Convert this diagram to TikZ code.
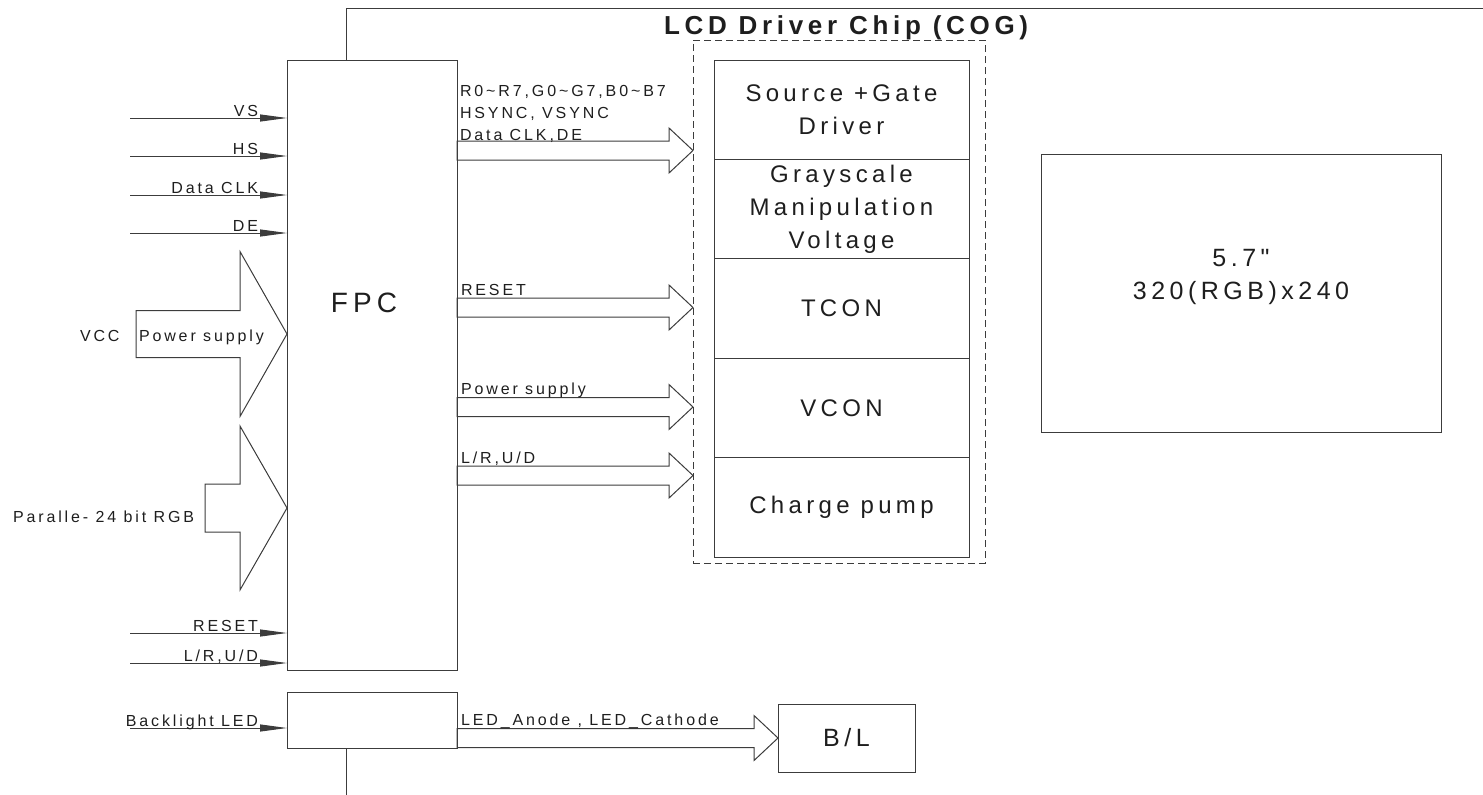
\documentclass[tikz,border=0pt]{standalone}
\usepackage{fontspec}
\setmainfont{Liberation Sans}[LetterSpace=18]
\newfontfamily\straightq{Liberation Sans}[LetterSpace=18, Ligatures=TeXOff]
\usetikzlibrary{arrows.meta, positioning, calc}
\definecolor{inkgray}{RGB}{30,30,30}
\definecolor{wiregray}{RGB}{60,60,60}

% hollow bus arrow: tail, tip, half body, half head, head length
\newcommand{\fatarrow}[5]{%
  \draw[fat] ($(#1)+(0,-#3)$) -- ($(#2)+(-#5,-#3)$) -- ($(#2)+(-#5,-#4)$) -- (#2)
    -- ($(#2)+(-#5,#4)$) -- ($(#2)+(-#5,#3)$) -- ($(#1)+(0,#3)$) -- cycle;}

\begin{document}
\begin{tikzpicture}[x=1pt, y=-1pt,
    every node/.style={inner sep=0pt, outer sep=0pt, text=inkgray},
    blk/.style={draw=wiregray, line width=1pt},
    cell/.style={blk, minimum width=255pt, minimum height=99.4pt, align=center,
      font=\fontsize{24}{33}\selectfont},
    sig/.style={draw=wiregray, line width=1pt, -{Triangle[length=27pt,width=7pt]}},
    sigtxt/.style={font=\fontsize{16}{22}\selectfont, anchor=base east},
    bustxt/.style={font=\fontsize{16}{22}\selectfont, anchor=base west, align=left},
    fat/.style={draw=wiregray, line width=1pt, line join=miter}]
  \useasboundingbox (0,0) rectangle (1483,795);

  % FPC and backlight connector
  \node[blk, minimum width=170pt, minimum height=610pt] (fpc) at (372,365) {};
  \node[font=\fontsize{28}{34}\selectfont] (fpclbl) at (364,303) {FPC};
  \node[blk, minimum width=170pt, minimum height=56pt] (bkl) at (372,720) {};

  % frame line
  \coordinate (topend) at (1483,8);
  \coordinate (fpcjoin) at ([xshift=-26pt]fpc.north);
  \draw[blk] (fpcjoin) |- (topend);
  \coordinate (botend) at (346,795);
  \draw[blk] (bkl.south -| botend) -- (botend);

  % driver chip
  \node[draw=wiregray, line width=1pt, dash pattern=on 7pt off 4pt,
    minimum width=292pt, minimum height=523pt] (cog) at (839,301.5) {};
  \node[font=\bfseries\fontsize{26}{30}\selectfont, anchor=base west] (cogttl)
    at (664,34) {LCD Driver Chip (COG)};
  \node[cell, anchor=north] (src) at (841.5,60) {Source +Gate\\Driver};
  \node[cell, below=0pt of src] (gray) {Grayscale\\Manipulation\\Voltage};
  \node[cell, below=0pt of gray] (tcon) {TCON};
  \node[cell, below=0pt of tcon] (vcon) {VCON};
  \node[cell, below=0pt of vcon] (pump) {Charge pump};

  % panel and backlight
  \node[blk, minimum width=400pt, minimum height=278pt] (disp) at (1241,293) {};
  \node[font=\straightq\fontsize{25}{33}\selectfont, align=center] (disptxt)
    at (1241,277) {5.7"\\320(RGB)x240};
  \node[blk, minimum width=137pt, minimum height=68pt,
    font=\fontsize{25}{30}\selectfont] (bl) at (846.5,738) {B/L};

  % input signals
  \foreach \yy/\nm/\txt in {118/vs/VS, 156/hs/HS, 195/clk/Data CLK, 233/de/DE,
      633/rst/RESET, 663/lr/{L/R,U/D}} {
    \coordinate (\nm in) at (130,\yy);
    \draw[sig] (\nm in) -- (\nm in -| fpc.west)
      node[sigtxt, xshift=-29pt, yshift=1.5pt] (\nm lbl) {\txt};
  }
  \coordinate (ledin) at (130,728);
  \draw[sig] (ledin) -- (ledin -| bkl.west)
    node[sigtxt, xshift=-29pt, yshift=1.5pt] (ledlbl) {Backlight LED};

  % power and RGB buses into FPC
  \coordinate (vcctail) at (136,334);
  \coordinate (vcctip) at (fpc.west |- vcctail);
  \fatarrow{vcctail}{vcctip}{23.5}{82.5}{47}
  \node[bustxt] (vcclbl) at (80,341) {VCC};
  \node[bustxt] (pwrinlbl) at (139,341) {Power supply};
  \coordinate (paratail) at (205,508);
  \coordinate (paratip) at (fpc.west |- paratail);
  \fatarrow{paratail}{paratip}{24}{82}{47}
  \node[bustxt] (paralbl) at (13,522) {Paralle- 24 bit RGB};

  % buses FPC -> chip
  \foreach \yy/\nm in {150.5/rgb, 307.5/rst, 407/pwr, 475.5/ctl} {
    \coordinate (\nm y) at (0,\yy);
    \coordinate (\nm tail) at (fpc.east |- \nm y);
    \coordinate (\nm tip) at (cog.west |- \nm y);
    \fatarrow{\nm tail}{\nm tip}{9.5}{22.5}{24}
  }
  \node[bustxt, anchor=south west] (rgblbl) at (460,143)
    {R0\textasciitilde R7,G0\textasciitilde G7,B0\textasciitilde B7\\HSYNC, VSYNC\\Data CLK,DE};
  \node[bustxt] (rstlbl) at (461,295) {RESET};
  \node[bustxt] (pwrlbl) at (461,394) {Power supply};
  \node[bustxt] (ctllbl) at (461,463) {L/R,U/D};

  % LED bus
  \coordinate (ledtail) at (bkl.east |- bl.west);
  \fatarrow{ledtail}{bl.west}{9.5}{22.5}{24}
  \node[bustxt] (ledbuslbl) at (461,725) {LED\_Anode , LED\_Cathode};
\end{tikzpicture}
\end{document}
